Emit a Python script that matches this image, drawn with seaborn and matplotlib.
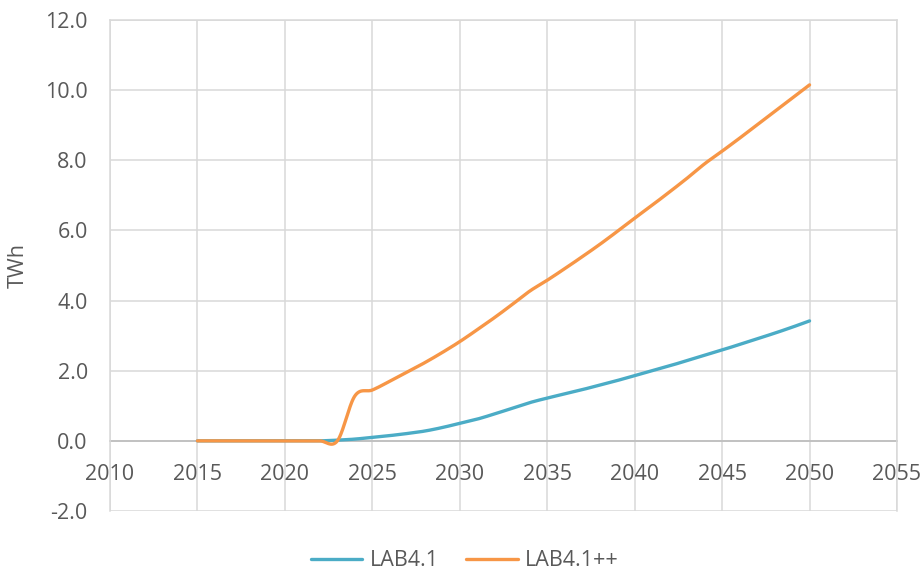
import numpy as np
import pandas as pd
import matplotlib
matplotlib.use("Agg")
import matplotlib.pyplot as plt
import seaborn as sns

# Annual electricity demand, TWh
years = list(range(2015, 2051))
lab41 = [0, 0, 0, 0, 0, 0, 0, 0,
         0.02, 0.05, 0.10, 0.15, 0.21, 0.28, 0.38, 0.50, 0.62, 0.77, 0.93, 1.09,
         1.22, 1.34, 1.46, 1.59, 1.72, 1.86, 2.00, 2.14, 2.29, 2.44, 2.59, 2.75,
         2.91, 3.07, 3.24, 3.42]
lab41pp = [0, 0, 0, 0, 0, 0, 0, 0,
           0, 1.28, 1.45, 1.70, 1.96, 2.23, 2.52, 2.83, 3.17, 3.52, 3.89, 4.27,
           4.58, 4.91, 5.25, 5.60, 5.97, 6.35, 6.72, 7.10, 7.49, 7.90, 8.26, 8.63,
           9.01, 9.39, 9.77, 10.15]
series_names = ["LAB4.1", "LAB4.1++"]
colors = ["#4BACC6", "#F79646"]
y_ticks = [-2, 0, 2, 4, 6, 8, 10, 12]
x_ticks = [2010, 2015, 2020, 2025, 2030, 2035, 2040, 2045, 2050, 2055]


def smooth(xs, ys, steps=30):
    """Bezier smoothing through every point (Catmull-Rom style, tension 1/6)."""
    xs = np.asarray(xs, float)
    ys = np.asarray(ys, float)
    n = len(xs)
    px, py = [], []
    for i in range(n - 1):
        i0, i3 = max(i - 1, 0), min(i + 2, n - 1)
        p0 = np.array([xs[i0], ys[i0]])
        p1 = np.array([xs[i], ys[i]])
        p2 = np.array([xs[i + 1], ys[i + 1]])
        p3 = np.array([xs[i3], ys[i3]])
        c1 = p1 + (p2 - p0) / 6
        c2 = p2 - (p3 - p1) / 6
        t = np.linspace(0, 1, steps, endpoint=(i == n - 2))[:, None]
        pts = ((1 - t) ** 3) * p1 + 3 * ((1 - t) ** 2) * t * c1 \
            + 3 * (1 - t) * t ** 2 * c2 + t ** 3 * p2
        px.extend(pts[:, 0])
        py.extend(pts[:, 1])
    return px, py


frames = []
for name, vals in zip(series_names, [lab41, lab41pp]):
    sx, sy = smooth(years, vals)
    frames.append(pd.DataFrame({"year": sx, "TWh": sy, "series": name}))
df = pd.concat(frames, ignore_index=True)

sns.set_theme(style="white")
plt.rcParams["font.family"] = ["Open Sans", "DejaVu Sans"]

fig = plt.figure(figsize=(9.24, 5.72), dpi=100)
ax = fig.add_axes([110 / 924, 1 - 511 / 572, (897 - 110) / 924, (511 - 20) / 572])

sns.lineplot(data=df, x="year", y="TWh", hue="series", palette=colors,
             hue_order=series_names, sort=False, estimator=None,
             linewidth=2.4, ax=ax, zorder=3)

grid_c = "#D9D9D9"
text_c = "#595959"
fs = 15.5
ax.set_xlim(2010, 2055)
ax.set_ylim(-2, 12)
ax.set_xticks(x_ticks)
ax.set_yticks(y_ticks)
ax.set_yticklabels([f"{v:.1f}" for v in y_ticks])
ax.grid(True, color=grid_c, linewidth=1.1, zorder=0)
ax.set_axisbelow(True)

for side in ["top", "right", "left"]:
    ax.spines[side].set_color(grid_c)
    ax.spines[side].set_linewidth(1.1)
ax.spines["bottom"].set_position(("data", 0))
ax.spines["bottom"].set_color("#BFBFBF")
ax.spines["bottom"].set_linewidth(1.3)
ax.spines["bottom"].set_zorder(2)

ax.tick_params(axis="both", length=0, labelsize=fs, labelcolor=text_c)
ax.tick_params(axis="x", pad=17)
ax.tick_params(axis="y", pad=16)

ax.set_xlabel("")
ax.set_ylabel("TWh", fontsize=fs, color=text_c, labelpad=12)

handles, labels = ax.get_legend_handles_labels()
ax.legend_.remove()
fig.legend(handles, labels, loc="center", bbox_to_anchor=(0.503, 1 - 561 / 572),
           ncol=2, frameon=False, fontsize=fs, labelcolor=text_c,
           handlelength=2.4, handletextpad=0.35, columnspacing=1.25,
           borderpad=0)

fig.savefig("out.png", dpi=100, facecolor="white")
